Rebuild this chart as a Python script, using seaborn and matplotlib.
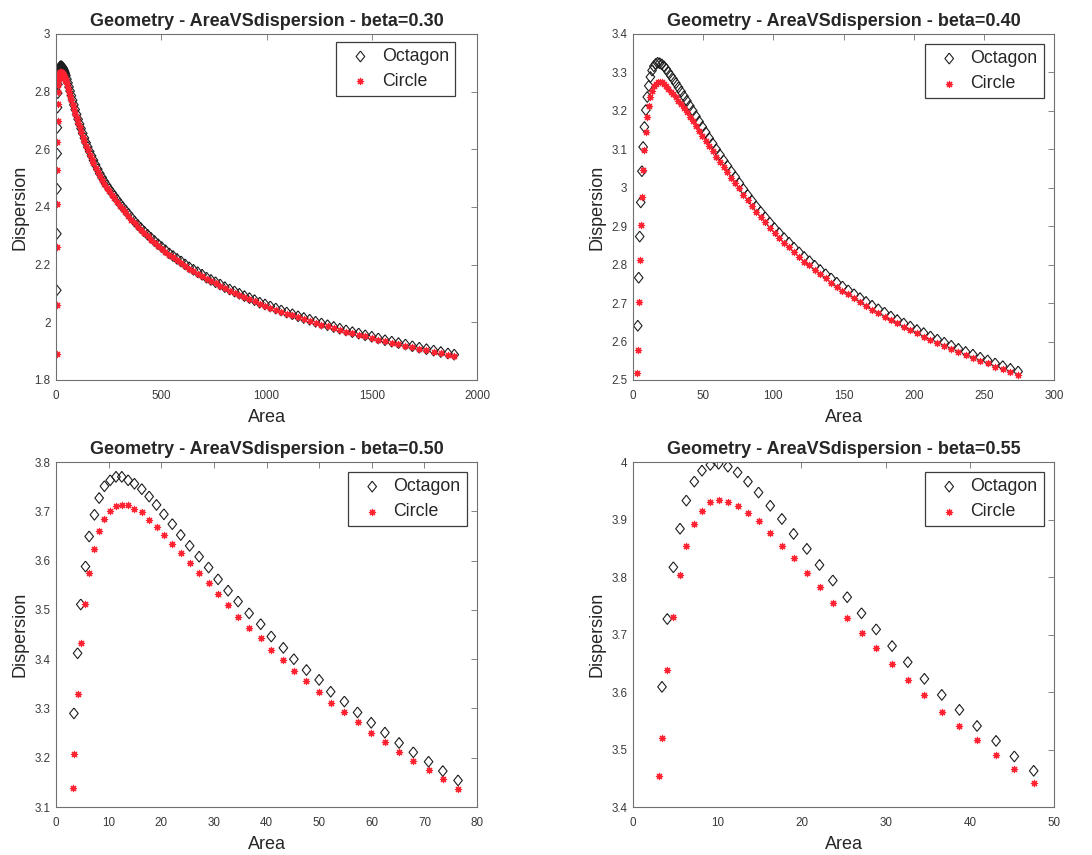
import matplotlib
matplotlib.use("Agg")
import matplotlib.pyplot as plt
import seaborn as sns
from matplotlib.ticker import FuncFormatter

# beta = 0.30
tl_oct_x = [3.40, 4.05, 4.75, 5.50, 6.32, 7.19, 8.11, 9.09, 10.13, 11.22, 12.37, 13.57, 14.84, 16.15,
            17.52, 18.96, 20.44, 21.98, 23.57, 25.23, 26.94, 28.70, 30.53, 32.40, 34.33, 36.32, 38.37,
            40.46, 42.62, 44.84, 47.10,
            52, 57, 62, 67, 73, 79, 85, 91, 98, 105, 112, 119, 127, 135, 143, 151, 160, 169, 178, 188,
            198, 208, 219, 230, 241, 253, 265, 277, 290, 303, 316, 330, 344, 358, 373, 388, 403, 419,
            435, 451, 468, 485, 502, 520, 538, 556, 575, 594, 613, 633, 653, 673, 694, 715, 736, 758,
            780, 802, 825, 848, 871, 895, 919, 943, 968, 993, 1018, 1044, 1070, 1096, 1123, 1150, 1177,
            1205, 1233, 1261, 1290, 1319, 1348, 1378, 1408, 1438, 1469, 1500, 1531, 1563, 1595, 1627,
            1660, 1693, 1726, 1760, 1794, 1828, 1862, 1892]
tl_oct_y = [2.111, 2.307, 2.463, 2.585, 2.675, 2.745, 2.795, 2.825, 2.846, 2.859, 2.867, 2.873, 2.877,
            2.880, 2.883, 2.885, 2.887, 2.888, 2.888, 2.888, 2.887, 2.886, 2.884, 2.882, 2.879, 2.876,
            2.873, 2.869, 2.865, 2.860, 2.855,
            2.843, 2.830, 2.816, 2.802, 2.786, 2.770, 2.754, 2.738, 2.721, 2.704, 2.688, 2.672, 2.655,
            2.639, 2.623, 2.608, 2.592, 2.577, 2.562, 2.546, 2.531, 2.516, 2.502, 2.488, 2.475, 2.462,
            2.450, 2.438, 2.425, 2.412, 2.400, 2.388, 2.376, 2.363, 2.350, 2.338, 2.327, 2.315, 2.304,
            2.293, 2.282, 2.271, 2.261, 2.250, 2.239, 2.230, 2.220, 2.211, 2.201, 2.191, 2.182, 2.174,
            2.165, 2.155, 2.147, 2.139, 2.131, 2.122, 2.114, 2.107, 2.099, 2.091, 2.084, 2.077, 2.068,
            2.062, 2.055, 2.048, 2.041, 2.034, 2.028, 2.021, 2.015, 2.009, 2.002, 1.996, 1.990, 1.984,
            1.978, 1.972, 1.966, 1.961, 1.955, 1.950, 1.944, 1.938, 1.933, 1.928, 1.923, 1.917, 1.912,
            1.907, 1.902, 1.897, 1.892, 1.888]
tl_circ_x = [2.90] + tl_oct_x
tl_circ_y = [1.889, 2.061, 2.260, 2.409, 2.527, 2.625, 2.699, 2.757, 2.798, 2.822, 2.838, 2.848, 2.855,
             2.860, 2.863, 2.865, 2.866, 2.867, 2.867, 2.867, 2.866, 2.865, 2.864, 2.862, 2.860, 2.857,
             2.854, 2.851, 2.848, 2.845, 2.841, 2.836,
             2.825, 2.813, 2.800, 2.786, 2.771, 2.755, 2.740, 2.724, 2.708, 2.691, 2.676, 2.660, 2.643,
             2.628, 2.612, 2.597, 2.581, 2.567, 2.552, 2.536, 2.521, 2.507, 2.493, 2.479, 2.466, 2.454,
             2.442, 2.430, 2.417, 2.404, 2.393, 2.381, 2.369, 2.356, 2.343, 2.331, 2.321, 2.309, 2.298,
             2.287, 2.276, 2.265, 2.255, 2.245, 2.234, 2.225, 2.215, 2.206, 2.196, 2.186, 2.177, 2.169,
             2.160, 2.150, 2.143, 2.135, 2.127, 2.118, 2.110, 2.103, 2.095, 2.087, 2.080, 2.073, 2.064,
             2.058, 2.051, 2.044, 2.037, 2.030, 2.024, 2.017, 2.011, 2.005, 1.998, 1.992, 1.986, 1.980,
             1.974, 1.968, 1.962, 1.957, 1.951, 1.946, 1.940, 1.934, 1.929, 1.924, 1.919, 1.913, 1.908,
             1.903, 1.898, 1.893, 1.888, 1.884]

# beta = 0.40
tr_oct_x = [3.40, 4.05, 4.75, 5.50, 6.32, 7.19, 8.11, 9.09, 10.13, 11.22, 12.37, 13.57, 14.84, 16.15,
            17.52, 18.95, 20.44, 21.98, 23.58, 25.23, 26.94, 28.70, 30.52, 32.40, 34.33, 36.32, 38.36,
            40.46, 42.62, 44.83, 47.10, 49.43, 51.81, 54.24, 56.73, 59.28, 61.89, 64.55, 67.26, 70.04,
            72.86, 75.75, 78.69, 81.68, 84.74, 87.84, 91.01, 94.23, 97.50, 100.84, 104.22, 107.67,
            111.17, 114.72, 118.34, 122.00, 125.73, 129.51, 133.34, 137.23, 141.18, 145.19, 149.25,
            153.36, 157.53, 161.76, 166.04, 170.38, 174.78, 179.23, 183.74, 188.30, 192.92, 197.60,
            202.33, 207.12, 211.96, 216.86, 221.81, 226.82, 231.89, 237.02, 242.19, 247.43, 252.72,
            258.07, 263.47, 268.93, 274.45]
tr_oct_y = [2.641, 2.766, 2.873, 2.962, 3.043, 3.106, 3.158, 3.202, 3.236, 3.265, 3.288, 3.305, 3.316,
            3.322, 3.325, 3.324, 3.321, 3.316, 3.309, 3.300,
            3.291, 3.282, 3.272, 3.261, 3.250, 3.238, 3.226, 3.213, 3.200, 3.186, 3.172, 3.158, 3.144,
            3.129, 3.115, 3.100, 3.086, 3.071, 3.057, 3.042, 3.028,
            3.012, 2.996, 2.981, 2.966, 2.951, 2.937, 2.923, 2.909, 2.895, 2.882, 2.869, 2.857, 2.844,
            2.832, 2.820, 2.809, 2.797, 2.786, 2.775, 2.764, 2.753, 2.743, 2.733, 2.723, 2.713, 2.703,
            2.693, 2.684, 2.675, 2.665, 2.656, 2.647, 2.639, 2.630, 2.622, 2.613, 2.605, 2.597, 2.589,
            2.581, 2.573, 2.566, 2.558, 2.551, 2.543, 2.536, 2.529, 2.522]
tr_circ_x = [3.00] + tr_oct_x
tr_circ_y = [2.517, 2.578, 2.704, 2.812, 2.903, 2.977, 3.045, 3.099, 3.145, 3.183, 3.212, 3.235, 3.252,
             3.264, 3.271, 3.275, 3.276, 3.274, 3.270, 3.264, 3.257,
             3.250, 3.243, 3.235, 3.226, 3.217, 3.207, 3.196, 3.185, 3.173, 3.160, 3.148, 3.135, 3.122,
             3.108, 3.095, 3.081, 3.068, 3.054, 3.040, 3.026, 3.013,
             2.998, 2.982, 2.967, 2.952, 2.938, 2.924, 2.910, 2.896, 2.882, 2.870, 2.857, 2.845, 2.832,
             2.820, 2.808, 2.798, 2.786, 2.775, 2.764, 2.753, 2.742, 2.732, 2.723, 2.713, 2.703, 2.693,
             2.683, 2.674, 2.665, 2.655, 2.647, 2.638, 2.630, 2.621, 2.613, 2.604, 2.596, 2.588, 2.580,
             2.572, 2.565, 2.558, 2.550, 2.543, 2.535, 2.528, 2.521, 2.514]

# beta = 0.50
bl_oct_x = [3.4, 4.1, 4.7, 5.6, 6.3, 7.3, 8.2, 9.2, 10.3, 11.4, 12.5, 13.7, 14.9, 16.3, 17.7, 19.1,
            20.5, 22.1, 23.7, 25.4, 27.2, 29.0, 30.8, 32.7, 34.6, 36.7, 38.9, 40.9, 43.2, 45.2, 47.6,
            50.0, 52.2, 54.8, 57.3, 59.9, 62.5, 65.2, 67.9, 70.8, 73.5, 76.4]
bl_oct_y = [3.290, 3.412, 3.511, 3.588, 3.649, 3.693, 3.727, 3.751, 3.763, 3.770, 3.770, 3.763, 3.756,
            3.745, 3.730, 3.713, 3.694, 3.674, 3.652, 3.630, 3.608, 3.586, 3.562, 3.539, 3.517, 3.493,
            3.471, 3.446, 3.423, 3.400, 3.378, 3.358, 3.334, 3.314, 3.292, 3.271, 3.251, 3.230, 3.211,
            3.192, 3.173, 3.154]
bl_circ_x = [3.2] + bl_oct_x
bl_circ_y = [3.139, 3.207, 3.330, 3.432, 3.512, 3.574, 3.623, 3.660, 3.685, 3.701, 3.710, 3.712, 3.712,
             3.705, 3.698, 3.683, 3.669, 3.652, 3.634, 3.615, 3.595, 3.574, 3.554, 3.532, 3.509, 3.486,
             3.464, 3.442, 3.419, 3.398, 3.377, 3.356, 3.334, 3.312, 3.292, 3.272, 3.251, 3.231, 3.211,
             3.193, 3.175, 3.156, 3.137]

# beta = 0.55
br_oct_x = [3.44, 4.07, 4.79, 5.58, 6.33, 7.28, 8.19, 9.18, 10.17, 11.27, 12.42, 13.65, 14.91, 16.30,
            17.68, 19.07, 20.65, 22.15, 23.73, 25.44, 27.14, 28.88, 30.77, 32.63, 34.61, 36.67, 38.77,
            40.86, 43.12, 45.29, 47.59]
br_oct_y = [3.609, 3.727, 3.817, 3.884, 3.933, 3.966, 3.985, 3.995, 3.997, 3.992, 3.982, 3.966, 3.947,
            3.924, 3.901, 3.875, 3.849, 3.821, 3.794, 3.765, 3.737, 3.709, 3.680, 3.652, 3.623, 3.595,
            3.569, 3.541, 3.515, 3.488, 3.463]
br_circ_x = [3.09] + br_oct_x
br_circ_y = [3.454, 3.520, 3.638, 3.731, 3.804, 3.854, 3.892, 3.915, 3.930, 3.934, 3.931, 3.924, 3.912,
             3.897, 3.876, 3.854, 3.833, 3.807, 3.783, 3.754, 3.729, 3.702, 3.676, 3.648, 3.621, 3.595,
             3.566, 3.541, 3.516, 3.491, 3.466, 3.441]

tl_xticks = [0, 500, 1000, 1500, 2000]
tl_yticks = [1.8, 2, 2.2, 2.4, 2.6, 2.8, 3]
tr_xticks = [0, 50, 100, 150, 200, 250, 300]
tr_yticks = [2.5, 2.6, 2.7, 2.8, 2.9, 3, 3.1, 3.2, 3.3, 3.4]
bl_xticks = [0, 10, 20, 30, 40, 50, 60, 70, 80]
bl_yticks = [3.1, 3.2, 3.3, 3.4, 3.5, 3.6, 3.7, 3.8]
br_xticks = [0, 10, 20, 30, 40, 50]
br_yticks = [3.4, 3.5, 3.6, 3.7, 3.8, 3.9, 4]

OCT_COLOR = "#1e1e1e"
CIRC_COLOR = "#ff2030"
AXIS_COLOR = "#707070"
DIAMOND = [(0, 1), (0.8, 0), (0, -1), (-0.8, 0), (0, 1)]
ASTERISK = (8, 2, 0)


def draw_panel(fig, pos, beta, oct_x, oct_y, circ_x, circ_y, xticks, yticks, leg_anchor):
    ax = fig.add_axes(pos)
    sns.scatterplot(x=oct_x, y=oct_y, marker=DIAMOND, s=60, facecolor="none",
                    edgecolor=OCT_COLOR, linewidth=0.8, ax=ax, label="Octagon")
    sns.scatterplot(x=circ_x, y=circ_y, marker=ASTERISK, s=20, color=CIRC_COLOR,
                    linewidth=0.85, ax=ax, label="Circle")

    ax.set_xlim(xticks[0], xticks[-1])
    ax.set_ylim(yticks[0], yticks[-1])
    ax.set_xticks(xticks)
    ax.set_yticks(yticks)
    fmt = FuncFormatter(lambda v, p: f"{v:g}")
    ax.xaxis.set_major_formatter(fmt)
    ax.yaxis.set_major_formatter(fmt)
    ax.tick_params(direction="in", top=True, right=True, length=4, width=0.6,
                   color=AXIS_COLOR, labelsize=8.4, labelcolor="#3a3a3a")
    ax.tick_params(axis="x", pad=7)
    ax.tick_params(axis="y", pad=4)
    for sp in ax.spines.values():
        sp.set_color(AXIS_COLOR)
        sp.set_linewidth(0.8)

    ax.set_title(f"Geometry - AreaVSdispersion - beta={beta}", fontsize=13,
                 fontweight="bold", pad=6)
    ax.set_xlabel("Area", fontsize=13, labelpad=5)
    ax.set_ylabel("Dispersion", fontsize=13, labelpad=4)

    leg = ax.legend(loc="upper right", bbox_to_anchor=leg_anchor, fontsize=12.8,
                    frameon=True, fancybox=False, framealpha=1, edgecolor="#3c3c3c",
                    borderpad=0.35, handlelength=2.0, handletextpad=0.2,
                    labelspacing=0.45, borderaxespad=0, scatterpoints=1)
    leg.get_frame().set_linewidth(0.9)
    return ax


sns.set_style("white")
plt.rcParams["font.family"] = ["Liberation Sans", "DejaVu Sans"]

fig = plt.figure(figsize=(10.92, 8.55), dpi=100)

draw_panel(fig, [0.0513, 0.5556, 0.3855, 0.4047], "0.30", tl_oct_x, tl_oct_y, tl_circ_x, tl_circ_y,
           tl_xticks, tl_yticks, (0.948, 0.977))
draw_panel(fig, [0.5797, 0.5556, 0.3855, 0.4047], "0.40", tr_oct_x, tr_oct_y, tr_circ_x, tr_circ_y,
           tr_xticks, tr_yticks, (0.976, 0.971))
draw_panel(fig, [0.0513, 0.0561, 0.3855, 0.4035], "0.50", bl_oct_x, bl_oct_y, bl_circ_x, bl_circ_y,
           bl_xticks, bl_yticks, (0.976, 0.971))
draw_panel(fig, [0.5797, 0.0561, 0.3855, 0.4035], "0.55", br_oct_x, br_oct_y, br_circ_x, br_circ_y,
           br_xticks, br_yticks, (0.976, 0.971))

fig.savefig("out.png", dpi=100)
plt.close(fig)
